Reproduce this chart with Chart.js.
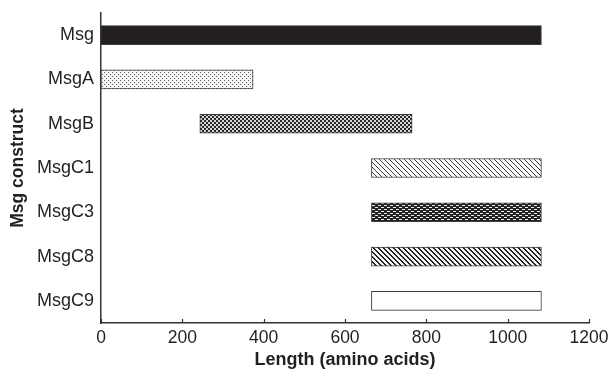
<!DOCTYPE html>
<html>
<head>
<meta charset="utf-8">
<script src="https://cdn.jsdelivr.net/npm/chart.js@4/dist/chart.umd.min.js"></script>
<style>
html,body{margin:0;padding:0;background:#fff;}
#wrap{width:616px;height:373px;}
</style>
</head>
<body>
<div id="wrap"><canvas id="c" width="616" height="373"></canvas></div>
<script>
const categories = ['Msg', 'MsgA', 'MsgB', 'MsgC1', 'MsgC3', 'MsgC8', 'MsgC9'];
const startValues = [0, 0, 243, 665, 665, 665, 665];
const endValues = [1083, 374, 765, 1083, 1083, 1083, 1083];
const xTickValues = [0, 200, 400, 600, 800, 1000, 1200];

function tile(n, m, fn) {
  const cv = document.createElement('canvas');
  cv.width = n; cv.height = m;
  const ctx = cv.getContext('2d');
  const img = ctx.createImageData(n, m);
  for (let y = 0; y < m; y++) for (let x = 0; x < n; x++) {
    const v = fn(x, y);
    const i = (y * n + x) * 4;
    img.data[i] = v; img.data[i+1] = v; img.data[i+2] = v; img.data[i+3] = 255;
  }
  ctx.putImageData(img, 0, 0);
  return document.getElementById('c').getContext('2d').createPattern(cv, 'repeat');
}
const mod = (a, n) => ((a % n) + n) % n;
const fills = [
  '#231f20',
  tile(4, 4, (x, y) => ((x === 0 && y === 0) || (x === 2 && y === 2)) ? 90 : 245),
  tile(4, 4, (x, y) => ((Math.floor(x/2) + Math.floor(y/2)) % 2 === 0) ? 40 : 215),
  tile(5, 5, (x, y) => mod(x - y, 5) === 0 ? 60 : 250),
  tile(6, 4, (x, y) => {
    if (y === 1 && x < 3) return 235;
    if (y === 3 && x >= 3) return 235;
    return 35;
  }),
  tile(5, 5, (x, y) => mod(x - y, 5) < 2 ? 35 : 245),
  '#ffffff'
];

const insideTicks = {
  id: 'insideTicks',
  afterDraw(chart) {
    const s = chart.scales.x;
    const ctx = chart.ctx;
    ctx.save();
    ctx.strokeStyle = '#333';
    ctx.lineWidth = 1.2;
    s.ticks.forEach(t => {
      const px = Math.round(s.getPixelForValue(t.value)) + 0.5;
      ctx.beginPath();
      ctx.moveTo(px, s.top);
      ctx.lineTo(px, s.top - 4);
      ctx.stroke();
    });
    ctx.restore();
  }
};

const font = "'Liberation Sans', Arial, Helvetica, sans-serif";
new Chart(document.getElementById('c'), {
  type: 'bar',
  data: {
    labels: categories,
    datasets: [{
      data: categories.map((c, i) => [startValues[i], endValues[i]]),
      backgroundColor: fills,
      borderColor: '#3a3a3a',
      borderWidth: 1,
      borderSkipped: false,
      barThickness: 19
    }]
  },
  plugins: [insideTicks],
  options: {
    responsive: false,
    devicePixelRatio: 1,
    animation: false,
    indexAxis: 'y',
    layout: { padding: { top: 13, right: 27, left: 0, bottom: 0 } },
    plugins: { legend: { display: false }, tooltip: { enabled: false } },
    scales: {
      x: {
        min: 0, max: 1200,
        afterFit: s => { s.height = 50; s.paddingLeft = 0; s.paddingRight = 0; },
        afterBuildTicks: s => { s.ticks = xTickValues.map(v => ({ value: v })); },
        grid: { display: false, drawTicks: false, tickLength: 0 },
        border: { display: true, color: '#333', width: 1.5 },
        ticks: { color: '#231f20', font: { family: font, size: 17.5 }, padding: 5, maxRotation: 0,
                 callback: v => String(v) },
        title: { display: true, text: 'Length (amino acids)', color: '#231f20',
                 font: { family: font, size: 18, weight: 'bold' }, padding: { top: 0, bottom: 2 } }
      },
      y: {
        afterFit: s => { s.width = 101; s.paddingTop = 0; s.paddingBottom = 0; },
        grid: { display: false, drawTicks: false, tickLength: 0 },
        border: { display: true, color: '#333', width: 1.5 },
        ticks: { color: '#231f20', font: { family: font, size: 18 }, padding: 7 },
        title: { display: true, text: 'Msg construct', color: '#231f20',
                 font: { family: font, size: 17.5, weight: 'bold' }, padding: { top: 8, bottom: 0 } }
      }
    }
  }
});
</script>
</body>
</html>
